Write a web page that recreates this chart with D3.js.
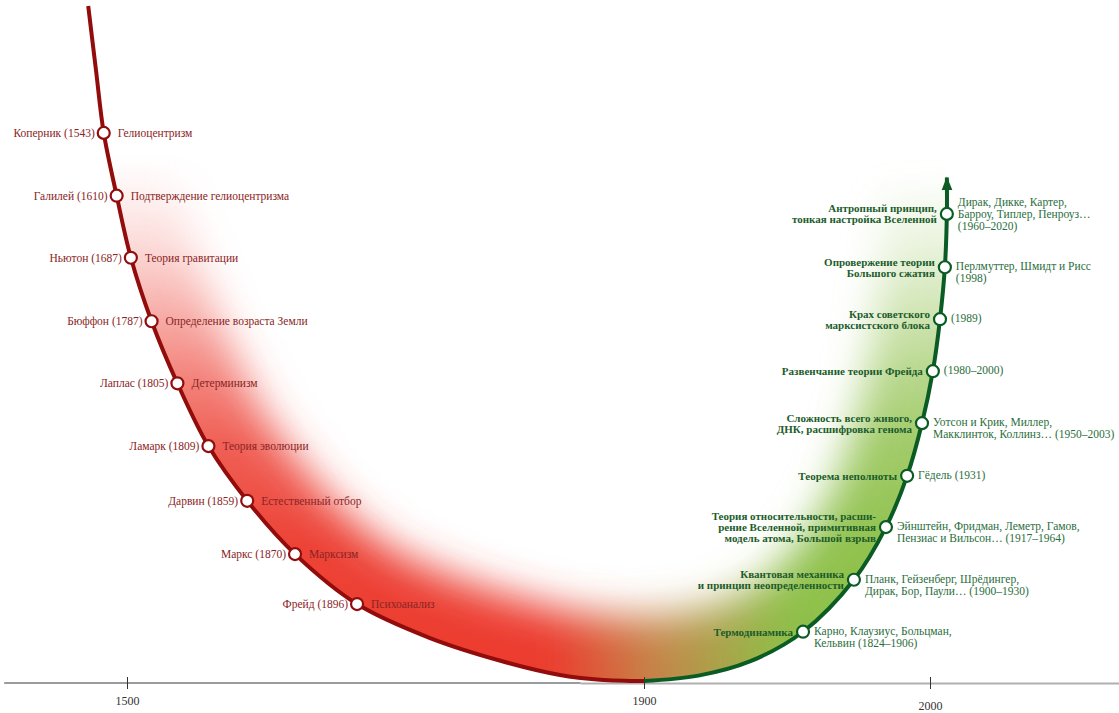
<!DOCTYPE html>
<html>
<head>
<meta charset="utf-8">
<script src="https://cdn.jsdelivr.net/npm/d3@7"></script>
<style>
body { margin: 0; background: #fff; }
svg { display: block; }
text { font-family: "Liberation Serif", "Times New Roman", serif; }
</style>
</head>
<body>
<svg id="chart" width="1119" height="713"></svg>
<script>
// ---- data ----
var tickYears = [1500, 1900, 2000];

// red branch (x in axis years, y in "level" 0..100)
var redTop = [[1470, 100], [1476, 90.5]];
var redX = [1482, 1492, 1503, 1519, 1539, 1563, 1593, 1630, 1678];
var redLevel = [81.2, 71.9, 62.7, 53.3, 44.1, 34.8, 26.7, 18.8, 11.4];
var redBottom = [[1734, 6.4], [1789, 3.0], [1835, 0.9], [1866, 0.2], [1900, 0]];
var redNames = ["Коперник (1543)", "Галилей (1610)", "Ньютон (1687)", "Бюффон (1787)",
                "Лаплас (1805)", "Ламарк (1809)", "Дарвин (1859)", "Маркс (1870)", "Фрейд (1896)"];
var redIdeas = ["Гелиоцентризм", "Подтверждение гелиоцентризма", "Теория гравитации",
                "Определение возраста Земли", "Детерминизм", "Теория эволюции",
                "Естественный отбор", "Марксизм", "Психоанализ"];

// green branch
var greenStart = [[1900, 0], [1919, 0.8], [1937, 2.9]];
var greenX = [1955.6, 1973.4, 1984.6, 1992, 1997.2, 2001, 2003.5, 2005.2, 2005.9];
var greenLevel = [7.3, 15.0, 22.8, 30.4, 38.2, 45.9, 53.6, 61.3, 69.2];
var greenTip = [[2005.9, 74.6]];
var greenIdeas = [
  ["Термодинамика"],
  ["Квантовая механика", "и принцип неопределенности"],
  ["Теория относительности, расши-", "рение Вселенной, примитивная", "модель атома, Большой взрыв"],
  ["Теорема неполноты"],
  ["Сложность всего живого,", "ДНК, расшифровка генома"],
  ["Развенчание теории Фрейда"],
  ["Крах советского", "марксистского блока"],
  ["Опровержение теории", "Большого сжатия"],
  ["Антропный принцип,", "тонкая настройка Вселенной"]
];
var greenPeople = [
  ["Карно, Клаузиус, Больцман,", "Кельвин (1824–1906)"],
  ["Планк, Гейзенберг, Шрёдингер,", "Дирак, Бор, Паули… (1900–1930)"],
  ["Эйнштейн, Фридман, Леметр, Гамов,", "Пензиас и Вильсон… (1917–1964)"],
  ["Гёдель (1931)"],
  ["Уотсон и Крик, Миллер,", "Макклинток, Коллинз… (1950–2003)"],
  ["(1980–2000)"],
  ["(1989)"],
  ["Перлмуттер, Шмидт и Рисс", "(1998)"],
  ["Дирак, Дикке, Картер,", "Барроу, Типлер, Пенроуз…", "(1960–2020)"]
];

// ---- setup ----
var screen = {width: 1119, height: 713};
var baseY = 683;

var x = d3.scaleLinear().domain([1500, 1900, 2000]).range([127, 644, 930]);
var y = d3.scaleLinear().domain([0, 100]).range([681, 6]);

var redColor = "#920c0c";
var greenColor = "#0b5c24";

var redMarks = redX.map(function(d, i) { return [d, redLevel[i]]; });
var greenMarks = greenX.map(function(d, i) { return [d, greenLevel[i]]; });

var redPts = redTop.concat(redMarks, redBottom);
var greenPts = greenStart.concat(greenMarks, greenTip);
var uPts = redPts.concat(greenPts.slice(1));

var line = d3.line()
             .x(function(d) { return x(d[0]); })
             .y(function(d) { return y(d[1]); })
             .curve(d3.curveCatmullRom.alpha(0.5));

var svg = d3.select("#chart");
var defs = svg.append("defs");

// inside of the U
var tip = greenTip[0];
defs.append("clipPath")
    .attr("id", "inside")
    .append("path")
    .attr("d", line(uPts) + "L" + x(tip[0]) + ",0L" + x(redTop[0][0]) + ",0Z");

// red -> green across the bottom
var hGrad = defs.append("linearGradient")
                .attr("id", "hgrad")
                .attr("gradientUnits", "userSpaceOnUse")
                .attr("x1", x(1830)).attr("x2", x(1950))
                .attr("y1", 0).attr("y2", 0);
hGrad.append("stop").attr("offset", 0).attr("stop-color", "#ec3a2d");
hGrad.append("stop").attr("offset", 0.45).attr("stop-color", "#c4874a");
hGrad.append("stop").attr("offset", 1).attr("stop-color", "#8cbf46");

// fades toward the top
var vGrad = defs.append("linearGradient")
                .attr("id", "vgrad")
                .attr("gradientUnits", "userSpaceOnUse")
                .attr("x1", 0).attr("x2", 0)
                .attr("y1", y(0)).attr("y2", y(78));
[[0, "#fff"], [0.256, "#f4f4f4"], [0.45, "#cfcfcf"], [0.577, "#a0a0a0"],
 [0.705, "#666"], [0.83, "#2e2e2e"], [0.94, "#0d0d0d"], [1, "#000"]].forEach(function(s) {
    vGrad.append("stop").attr("offset", s[0]).attr("stop-color", s[1]);
});

defs.append("mask")
    .attr("id", "vfade")
    .attr("maskUnits", "userSpaceOnUse")
    .attr("x", 0).attr("y", 0).attr("width", screen.width).attr("height", screen.height)
    .append("rect")
    .attr("width", screen.width).attr("height", screen.height)
    .attr("fill", "url(#vgrad)");

defs.append("filter")
    .attr("id", "soft")
    .attr("x", "-30%").attr("y", "-30%").attr("width", "160%").attr("height", "160%")
    .append("feGaussianBlur")
    .attr("stdDeviation", 20);

defs.append("marker")
    .attr("id", "arrow")
    .attr("markerUnits", "userSpaceOnUse")
    .attr("viewBox", "0 -6 14 12")
    .attr("refX", 13).attr("refY", 0)
    .attr("markerWidth", 14).attr("markerHeight", 12)
    .attr("orient", "auto")
    .append("path")
    .attr("d", "M0,-5.5L14,0L0,5.5Z")
    .attr("fill", greenColor);

// ---- glow band ----
svg.append("g")
   .attr("clip-path", "url(#inside)")
   .append("g")
   .attr("mask", "url(#vfade)")
   .append("path")
   .attr("d", line(uPts))
   .attr("fill", "none")
   .attr("stroke", "url(#hgrad)")
   .attr("stroke-width", 130)
   .attr("filter", "url(#soft)");

// ---- axis ----
svg.append("line")
   .attr("x1", x(1405)).attr("x2", x(1851))
   .attr("y1", baseY).attr("y2", baseY)
   .attr("stroke", "#7a7a7a").attr("stroke-width", 1.6);
svg.append("line")
   .attr("x1", x(1851)).attr("x2", screen.width)
   .attr("y1", baseY + 0.5).attr("y2", baseY + 0.5)
   .attr("stroke", "#b0b0b0").attr("stroke-width", 2);

var axis = d3.axisBottom(x)
             .tickValues(tickYears)
             .tickFormat(d3.format("d"))
             .tickSize(6)
             .tickPadding(8);

var axisG = svg.append("g")
               .attr("transform", "translate(0," + baseY + ")")
               .call(axis);
axisG.select(".domain").remove();
axisG.selectAll(".tick line")
     .attr("y1", -6).attr("y2", 6)
     .attr("stroke", "#333").attr("stroke-width", 1);
axisG.selectAll(".tick text")
     .attr("fill", "#333")
     .style("font-size", "12px")
     .attr("y", function(d) { return d === 2000 ? 18.5 : 13; });

// ---- lines ----
svg.append("path")
   .attr("d", line(redPts))
   .attr("fill", "none")
   .attr("stroke", redColor)
   .attr("stroke-width", 4);

svg.append("path")
   .attr("d", line(greenPts))
   .attr("fill", "none")
   .attr("stroke", greenColor)
   .attr("stroke-width", 4)
   .attr("marker-end", "url(#arrow)");

// ---- red markers & labels ----
var redG = svg.append("g")
              .selectAll("g")
              .data(redMarks)
              .enter()
              .append("g")
              .attr("transform", function(d) { return "translate(" + x(d[0]) + "," + y(d[1]) + ")"; });

redG.append("circle")
    .attr("r", 6)
    .attr("fill", "#fff")
    .attr("stroke", redColor)
    .attr("stroke-width", 2.2);

redG.append("text")
    .attr("x", -9).attr("y", 4)
    .attr("text-anchor", "end")
    .attr("fill", "#8a2424")
    .style("font-size", "11.5px")
    .text(function(d, i) { return redNames[i]; });

redG.append("text")
    .attr("x", 14).attr("y", 4)
    .attr("fill", "#8a2424")
    .style("font-size", "11.5px")
    .text(function(d, i) { return redIdeas[i]; });

// ---- green markers & labels ----
var greenG = svg.append("g")
                .selectAll("g")
                .data(greenMarks)
                .enter()
                .append("g")
                .attr("transform", function(d) { return "translate(" + x(d[0]) + "," + y(d[1]) + ")"; });

greenG.append("circle")
      .attr("r", 6)
      .attr("fill", "#fff")
      .attr("stroke", greenColor)
      .attr("stroke-width", 2.2);

var boldLH = 11;
greenG.append("text")
      .attr("text-anchor", "end")
      .attr("fill", "#1c5c2b")
      .style("font-size", "11px")
      .style("font-weight", "bold")
      .each(function(d, i) {
          var lines = greenIdeas[i];
          var top = 4 - (lines.length - 1) * boldLH / 2;
          d3.select(this)
            .selectAll("tspan")
            .data(lines)
            .enter()
            .append("tspan")
            .attr("x", -10)
            .attr("y", function(t, j) { return top + j * boldLH; })
            .text(function(t) { return t; });
      });

var peopleLH = 12;
greenG.append("text")
      .attr("fill", "#2a6e3c")
      .style("font-size", "11.5px")
      .each(function(d, i) {
          var lines = greenPeople[i];
          var top = lines.length > 2 ? 4 - peopleLH : 3;
          d3.select(this)
            .selectAll("tspan")
            .data(lines)
            .enter()
            .append("tspan")
            .attr("x", 11)
            .attr("y", function(t, j) { return top + j * peopleLH; })
            .text(function(t) { return t; });
      });
</script>
</body>
</html>
